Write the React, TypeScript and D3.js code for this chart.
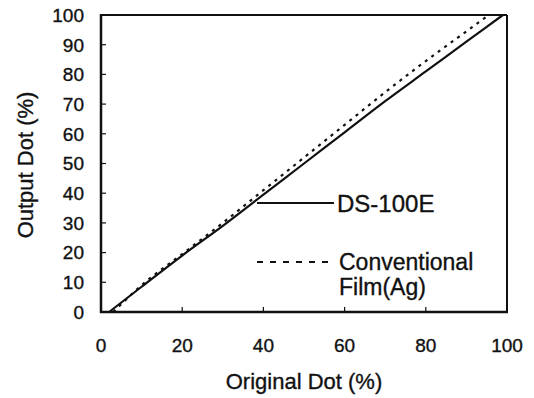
import React from "react";
import * as d3 from "d3";

const xTicks = [0, 20, 40, 60, 80, 100];
const yTicks = [0, 10, 20, 30, 40, 50, 60, 70, 80, 90, 100];

const dsX = [2, 10, 20, 30, 40, 50, 60, 70, 80, 90, 99];
const dsY = [0, 8.5, 19, 29, 39.5, 50, 60.5, 71, 81, 91, 100];

const convX = [3, 10, 20, 30, 40, 50, 60, 70, 80, 90, 95.5];
const convY = [0, 9, 19.5, 30, 41, 52, 63, 74, 84.5, 94.5, 100];

const legendLabels = ["DS-100E", "Conventional", "Film(Ag)"];
const xTitle = "Original Dot (%)";
const yTitle = "Output Dot (%)";

const W = 534, H = 398;
const m = { left: 101, right: 507, top: 15, bottom: 312 };
const font = "Liberation Sans, Arial, Helvetica, sans-serif";

export default function App() {
  const x = d3.scaleLinear().domain([0, 100]).range([m.left, m.right]);
  const y = d3.scaleLinear().domain([0, 100]).range([m.bottom, m.top]);
  const line = d3
    .line<[number, number]>()
    .x((d) => x(d[0]))
    .y((d) => y(d[1]))
    .curve(d3.curveMonotoneX);
  const ds = dsX.map((v, i) => [v, dsY[i]] as [number, number]);
  const conv = convX.map((v, i) => [v, convY[i]] as [number, number]);
  const ts = { stroke: "#111", strokeWidth: 0.35, fill: "#111" };

  return (
    <svg
      width={W}
      height={H}
      style={{ position: "absolute", left: 0, top: 0, background: "#fff" }}
      fontFamily={font}
    >
      <rect x={0} y={0} width={W} height={H} fill="#fff" />
      {/* frame */}
      <line x1={m.left} x2={m.right} y1={m.top} y2={m.top} stroke="#111" strokeWidth={2} />
      <line x1={m.right} x2={m.right} y1={m.top} y2={m.bottom} stroke="#111" strokeWidth={2} />
      <line x1={m.left} x2={m.left} y1={m.top - 1} y2={m.bottom + 1} stroke="#111" strokeWidth={2.5} />
      <line x1={m.left - 1} x2={m.right + 1} y1={m.bottom} y2={m.bottom} stroke="#111" strokeWidth={2.5} />
      {/* y ticks */}
      {yTicks.map((t) => (
        <g key={"y" + t}>
          <line x1={m.left} x2={m.left + 5} y1={y(t)} y2={y(t)} stroke="#111" strokeWidth={1.2} />
          <text x={84} y={y(t)} dy="0.36em" textAnchor="end" fontSize={19} {...ts}>
            {t}
          </text>
        </g>
      ))}
      {/* x ticks */}
      {xTicks.map((t) => (
        <g key={"x" + t}>
          <line x1={x(t)} x2={x(t)} y1={m.bottom} y2={m.bottom - 5} stroke="#111" strokeWidth={1.2} />
          <text x={x(t)} y={352} textAnchor="middle" fontSize={19} {...ts}>
            {t}
          </text>
        </g>
      ))}
      {/* axis titles */}
      <text x={(m.left + m.right) / 2} y={389} textAnchor="middle" fontSize={22} {...ts}>
        {xTitle}
      </text>
      <text transform={`translate(33,165) rotate(-90)`} textAnchor="middle" fontSize={22} {...ts}>
        {yTitle}
      </text>
      {/* data */}
      <path d={line(conv) || ""} fill="none" stroke="#111" strokeWidth={2.2} strokeDasharray="3,5" />
      <path d={line(ds) || ""} fill="none" stroke="#111" strokeWidth={2.2} />
      {/* legend */}
      <line x1={257} x2={334} y1={203} y2={203} stroke="#111" strokeWidth={2} />
      <text x={337} y={212} fontSize={24} {...ts}>
        {legendLabels[0]}
      </text>
      <line x1={257} x2={333} y1={262} y2={262} stroke="#111" strokeWidth={2} strokeDasharray="6,7" />
      <text x={339} y={270} fontSize={23} {...ts}>
        {legendLabels[1]}
      </text>
      <text x={339} y={295} fontSize={23} {...ts}>
        {legendLabels[2]}
      </text>
    </svg>
  );
}
